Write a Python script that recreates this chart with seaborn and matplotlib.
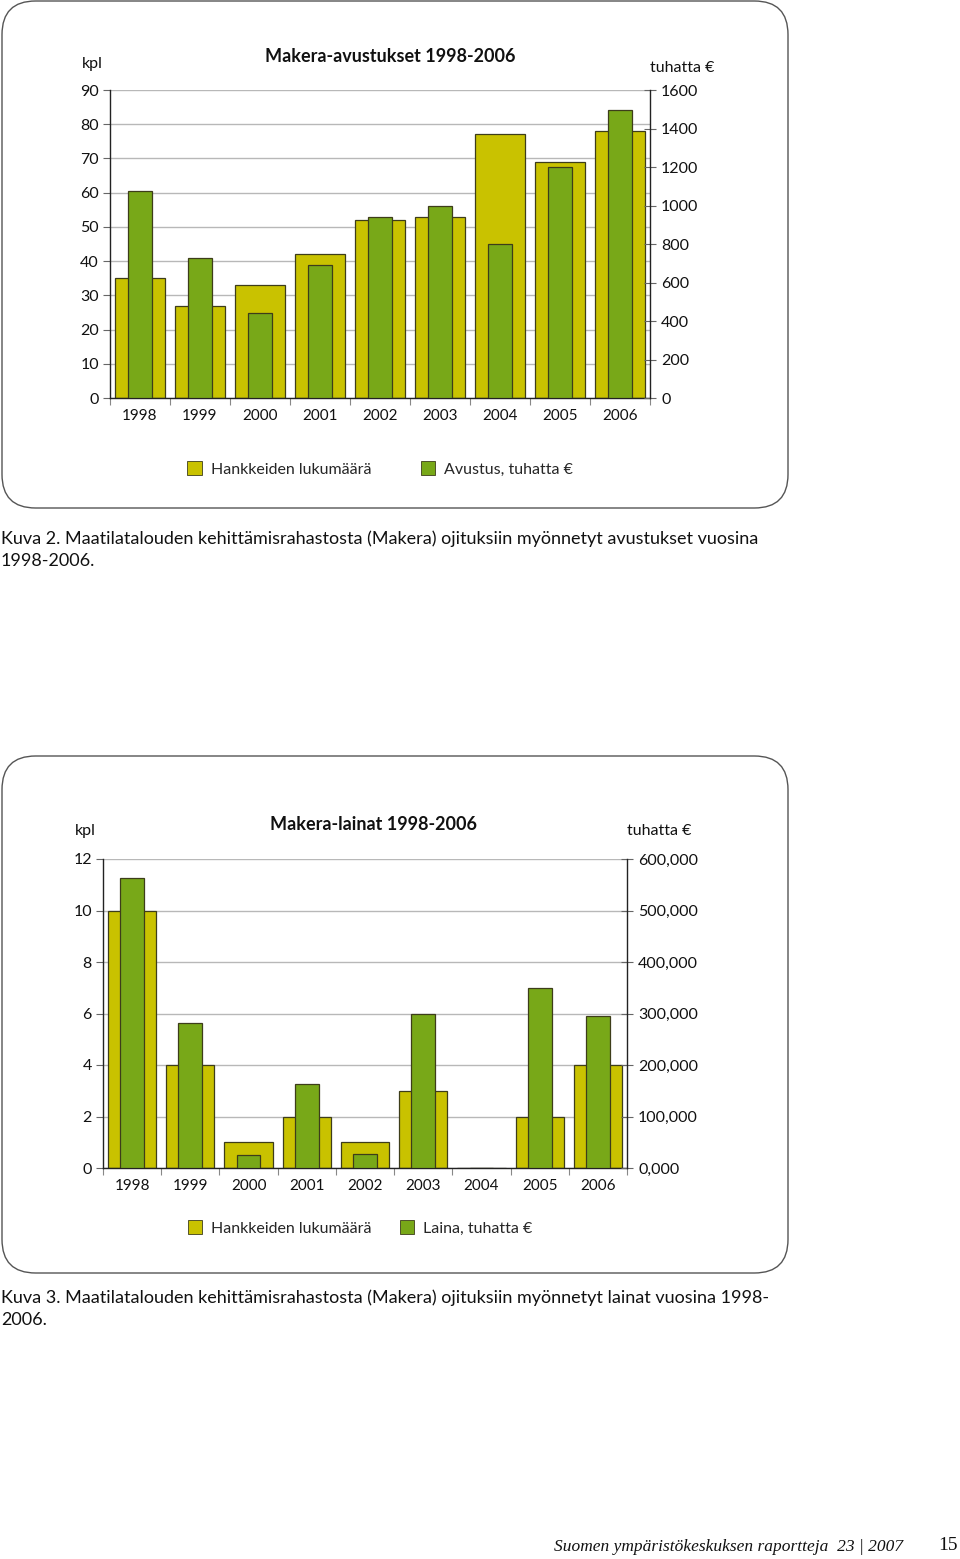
import matplotlib
matplotlib.use("Agg")
import matplotlib.pyplot as plt
import seaborn as sns
from matplotlib.patches import FancyBboxPatch, Patch
from matplotlib.ticker import FuncFormatter, FixedLocator

sns.set_style("white")
plt.rcParams['font.family'] = ['Lato', 'DejaVu Sans']

# ---------------- data ----------------
years = ["1998", "1999", "2000", "2001", "2002", "2003", "2004", "2005", "2006"]
grant_projects = [35, 27, 33, 42, 52, 53, 77, 69, 78]               # kpl
grant_amount = [1075, 729, 444, 693, 942, 996, 800, 1200, 1495]     # tuhatta €
loan_projects = [10, 4, 1, 2, 1, 3, 0, 2, 4]                        # kpl
loan_amount = [562500, 282500, 25000, 162500, 27500, 300000, 0, 350000, 295000]

grant_title = "Makera-avustukset 1998-2006"
loan_title = "Makera-lainat 1998-2006"
legend_count = "Hankkeiden lukumäärä"
legend_grant = "Avustus, tuhatta €"
legend_loan = "Laina, tuhatta €"
caption2 = ["Kuva 2. Maatilatalouden kehittämisrahastosta (Makera) ojituksiin myönnetyt avustukset vuosina",
            "1998-2006."]
caption3 = ["Kuva 3. Maatilatalouden kehittämisrahastosta (Makera) ojituksiin myönnetyt lainat vuosina 1998-",
            "2006."]

W, H = 960, 1559
YELLOW = "#c9c200"
GREEN = "#78a818"
EDGE = "#3d3d1a"
GRID = "#b8b8b8"
AXC = "#222222"

fig = plt.figure(figsize=(W / 100, H / 100), dpi=100)


def fx(px):
    return px / W


def fy(py):
    return 1 - py / H


def box(x0, y0, x1, y1):
    p = FancyBboxPatch((fx(x0), fy(y1)), fx(x1 - x0), (y1 - y0) / H,
                       boxstyle="round,pad=0,rounding_size=0.035",
                       transform=fig.transFigure, facecolor="none",
                       edgecolor="#555555", linewidth=1.0, zorder=5,
                       mutation_aspect=W / H)
    fig.patches.append(p)


def make_chart(left, right, top, bottom, counts, amounts, cmax, cstep,
               amax, astep, afmt, title, title_xy, kpl_xy, tuh_xy,
               leg_label, leg_xy, leg_space):
    ax = fig.add_axes([fx(left), fy(bottom), fx(right - left), (bottom - top) / H])
    ax.set_facecolor("none")
    sns.barplot(x=years, y=counts, ax=ax, color=YELLOW, width=0.83,
                edgecolor=EDGE, linewidth=0.9, saturation=1, zorder=2)
    ax2 = ax.twinx()
    sns.barplot(x=years, y=amounts, ax=ax2, color=GREEN, width=0.41,
                edgecolor=EDGE, linewidth=0.9, saturation=1, zorder=3)
    for a in (ax, ax2):
        a.set_xlim(-0.5, len(years) - 0.5)
        a.set_xlabel("")
        a.set_ylabel("")
        for s in a.spines.values():
            s.set_visible(False)
    ax.set_ylim(0, cmax)
    ax.set_yticks(range(0, cmax + 1, cstep))
    ax2.set_ylim(0, amax)
    ax2.set_yticks(range(0, amax + 1, astep))
    ax2.yaxis.set_major_formatter(FuncFormatter(afmt))
    ax.spines["left"].set_visible(True)
    ax.spines["bottom"].set_visible(True)
    ax2.spines["right"].set_visible(True)
    for s in (ax.spines["left"], ax.spines["bottom"], ax2.spines["right"]):
        s.set_color(AXC)
        s.set_linewidth(1.0)
    ax.set_axisbelow(True)
    ax.yaxis.grid(True, color=GRID, linewidth=1.0)
    ax.xaxis.grid(False)
    ax2.grid(False)
    ax.tick_params(axis="y", direction="out", length=5, width=0.8, color="#666666",
                   labelsize=11.5, pad=3, left=True, labelcolor="#111111")
    ax2.tick_params(axis="y", direction="inout", length=8, width=0.8, color="#666666",
                    labelsize=11.5, pad=4, right=True, labelcolor="#111111")
    ax.tick_params(axis="x", which="major", length=0, labelsize=11, pad=8,
                   labelcolor="#111111")
    ax.xaxis.set_minor_locator(FixedLocator([i - 0.5 for i in range(len(years) + 1)]))
    ax.tick_params(axis="x", which="minor", direction="out", length=5, width=0.8,
                   color="#888888", bottom=True)
    ax2.tick_params(axis="x", which="both", length=0, labelbottom=False)

    fig.text(fx(title_xy[0]), fy(title_xy[1]), title, ha="center", va="center",
             fontsize=13, fontweight="bold", color="#111111")
    fig.text(fx(kpl_xy[0]), fy(kpl_xy[1]), "kpl", ha="left", va="center",
             fontsize=11.5, color="#111111")
    fig.text(fx(tuh_xy[0]), fy(tuh_xy[1]), "tuhatta €", ha="left", va="center",
             fontsize=11.5, color="#111111")

    handles = [Patch(facecolor=YELLOW, edgecolor=EDGE, linewidth=0.6),
               Patch(facecolor=GREEN, edgecolor=EDGE, linewidth=0.6)]
    fig.legend(handles, [legend_count, leg_label], loc="center",
               bbox_to_anchor=(fx(leg_xy[0]), fy(leg_xy[1])), ncol=2,
               frameon=False, fontsize=11.5, handlelength=0.9, handleheight=0.9,
               handletextpad=0.55, columnspacing=leg_space)
    return ax, ax2


# -------- top chart --------
box(2, 1, 788, 508)
make_chart(110, 650, 90, 398, grant_projects, grant_amount, 90, 10, 1600, 200,
           lambda v, p: f"{int(v)}", grant_title, (390, 57), (82, 64), (650, 68),
           legend_grant, (380, 469), 3.1)

# -------- bottom chart --------
box(2, 756, 788, 1273)
make_chart(103, 627, 859, 1168, loan_projects, loan_amount, 12, 2, 600000, 100000,
           lambda v, p: f"{v / 1000:.3f}".replace(".", ","), loan_title, (374, 825),
           (75, 831), (627, 831), legend_loan, (360, 1228), 1.8)

# captions
for i, line in enumerate(caption2):
    fig.text(fx(1), fy(539 + 22 * i), line, ha="left", va="center", fontsize=13,
             color="#111111")
for i, line in enumerate(caption3):
    fig.text(fx(1), fy(1298 + 22 * i), line, ha="left", va="center", fontsize=13,
             color="#111111")

# footer
fig.text(fx(903), fy(1547), "Suomen ympäristökeskuksen raportteja  23 | 2007",
         ha="right", va="center", fontsize=12.5, fontstyle="italic",
         family=["Liberation Serif", "DejaVu Serif"], color="#111111")
fig.text(fx(958), fy(1546), "15", ha="right", va="center", fontsize=14,
         family=["Liberation Serif", "DejaVu Serif"], color="#111111")

fig.savefig("out.png", dpi=100)
